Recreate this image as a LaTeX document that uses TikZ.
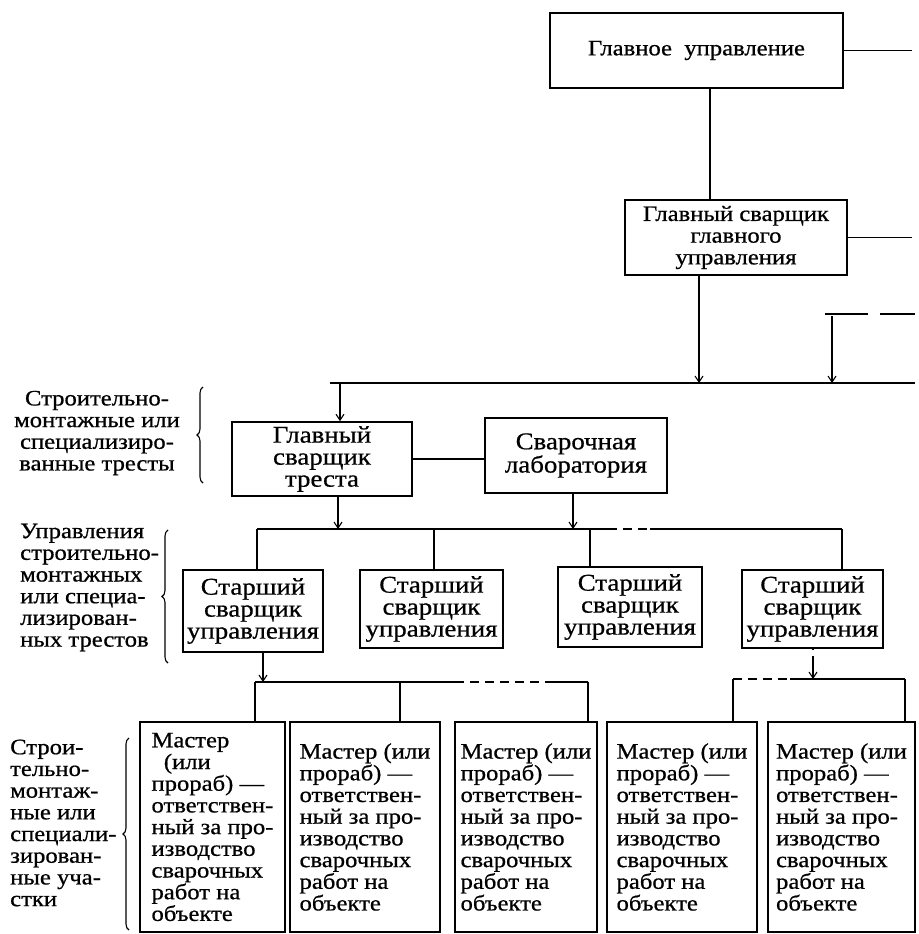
\documentclass[tikz,border=0pt]{standalone}
\usepackage{fontspec}
\setmainfont[FakeStretch=1.12,FakeBold=0.7]{Liberation Serif}
\usetikzlibrary{arrows.meta,decorations.pathreplacing}
\begin{document}
\begin{tikzpicture}[x=1pt,y=-1pt,
  txt/.style={font=\fontsize{22}{21.7}\selectfont},
  bigtxt/.style={font=\fontsize{24}{22}\selectfont},
  box/.style={draw, line width=1.6pt, inner sep=0pt, txt},
  lbl/.style={inner sep=0pt, txt},
  ln/.style={line width=1.4pt},
  dsh/.style={line width=1.4pt, dash pattern=on 9pt off 6pt},
  arr/.style={line width=1.1pt, -{Straight Barb[length=6pt,width=8pt]}},
  brc/.style={line width=1.1pt, decorate, decoration={brace, amplitude=6pt}}]
\useasboundingbox (0,0) rectangle (918,934);

% boxes
\node[box, minimum width=293, minimum height=75, align=center] (top) at (696.5,50.5) {Главное\ \ управление};
\node[box, minimum width=222, minimum height=75, align=center] (gl2) at (736,237.5) {Главный сварщик\\главного\\управления};
\node[box, bigtxt, minimum width=180, minimum height=74, align=center] (trest) at (322,459) {Главный\\сварщик\\треста};
\node[box, bigtxt, minimum width=182, minimum height=75, align=center] (lab) at (576,455.5) {Сварочная\\лаборатория};
\node[box, bigtxt, minimum width=140, minimum height=82, align=center] (s1) at (253,611) {Старший\\сварщик\\управления};
\node[box, bigtxt, minimum width=143, minimum height=78, align=center] (s2) at (431.5,609) {Старший\\сварщик\\управления};
\node[box, bigtxt, minimum width=144, minimum height=80, align=center] (s3) at (630,607) {Старший\\сварщик\\управления};
\node[box, bigtxt, minimum width=141, minimum height=78, align=center] (s4) at (812.5,609) {Старший\\сварщик\\управления};
\node[box, minimum width=145, minimum height=210, align=left] (m1) at (212.5,827) {Мастер\\\ \ (или\\прораб) —\\ответствен-\\ный за про-\\изводство\\сварочных\\работ на\\объекте};
\node[box, minimum width=150, minimum height=210, align=left] (m2) at (365,827) {Мастер (или\\прораб) —\\ответствен-\\ный за про-\\изводство\\сварочных\\работ на\\объекте};
\node[box, minimum width=142, minimum height=210, align=left] (m3) at (526,827) {Мастер (или\\прораб) —\\ответствен-\\ный за про-\\изводство\\сварочных\\работ на\\объекте};
\node[box, minimum width=150, minimum height=210, align=left] (m4) at (682,827) {Мастер (или\\прораб) —\\ответствен-\\ный за про-\\изводство\\сварочных\\работ на\\объекте};
\node[box, minimum width=147, minimum height=210, align=left] (m5) at (841.5,827) {Мастер (или\\прораб) —\\ответствен-\\ный за про-\\изводство\\сварочных\\работ на\\объекте};

% side labels
\node[lbl, align=center] (L1) at (97,433) {Строительно-\\монтажные или\\специализиро-\\ванные тресты};
\node[lbl, align=left, anchor=west] (L2) at (20,587.5) {Управления\\строительно-\\монтажных\\или специа-\\лизирован-\\ных трестов};
\node[lbl, align=left, anchor=west] (L3) at (10,823) {Строи-\\тельно-\\монтаж-\\ные или\\специали-\\зирован-\\ные уча-\\стки};

% braces
\coordinate (br1a) at (203,483); \coordinate (br1b) at (203,387);
\coordinate (br2a) at (168,663); \coordinate (br2b) at (168,530);
\coordinate (br3a) at (129,930); \coordinate (br3b) at (129,738);
\draw[brc] (br1a) -- (br1b);
\draw[brc] (br2a) -- (br2b);
\draw[brc] (br3a) -- (br3b);

% coordinates
\coordinate (r1) at (912,0);
\coordinate (c1) at (710,0);
\coordinate (b1L) at (330,383); \coordinate (b1R) at (915,383);
\coordinate (a1) at (699,383);
\coordinate (a2) at (832,383); \coordinate (a2t) at (832,316);
\coordinate (t2L) at (825,314); \coordinate (t2a) at (868,314);
\coordinate (t2b) at (880,314); \coordinate (t2R) at (915,314);
\coordinate (a3) at (340,383);
\coordinate (b2L) at (257,529); \coordinate (b2a) at (608,529);
\coordinate (b2b) at (650,529); \coordinate (b2R) at (842,529);
\coordinate (d2) at (434,529); \coordinate (d3) at (590,529);
\coordinate (a4) at (338,529); \coordinate (a5) at (573,529);
\coordinate (b3L) at (255,682); \coordinate (b3a) at (455,682);
\coordinate (b3b) at (550,682); \coordinate (b3R) at (588,682);
\coordinate (d5) at (400,682); \coordinate (a6) at (263,682);
\coordinate (b4L) at (733,679); \coordinate (b4a) at (790,679);
\coordinate (b4R) at (905,679); \coordinate (a7) at (813,679);

% top part
\draw[ln] (top.east) -- (top.east -| r1);
\draw[ln] (gl2.east) -- (gl2.east -| r1);
\draw[ln] (top.south -| c1) -- (gl2.north -| c1);
\draw[ln] (b1L) -- (b1R);
\draw[arr] (gl2.south -| a1) -- (a1);
\draw[ln] (t2L) -- (t2a);
\draw[ln] (t2b) -- (t2R);
\draw[arr] (a2t) -- (a2);
\draw[arr] (a3) -- (trest.north -| a3);
\draw[ln] (trest.east) -- (trest.east -| lab.west);

% second bus
\draw[arr] (trest.south -| a4) -- (a4);
\draw[arr] (lab.south -| a5) -- (a5);
\draw[ln] (b2L) -- (b2a);
\draw[dsh] (b2a) -- (b2b);
\draw[ln] (b2b) -- (b2R);
\draw[ln] (b2L) -- (s1.north -| b2L);
\draw[ln] (d2) -- (s2.north -| d2);
\draw[ln] (d3) -- (s3.north -| d3);
\draw[ln] (b2R) -- (s4.north -| b2R);

% third bus (left)
\draw[arr] (s1.south -| a6) -- (a6);
\draw[ln] (b3L) -- (b3a);
\draw[dsh] (b3a) -- (b3b);
\draw[ln] (b3b) -- (b3R);
\draw[ln] (b3L) -- (m1.north -| b3L);
\draw[ln] (d5) -- (m2.north -| d5);
\draw[ln] (b3R) -- (m3.north -| b3R);

% fourth bus (right)
\draw[arr, dash pattern=on 1.5pt off 6pt on 40pt] (s4.south -| a7) -- (a7);
\draw[dsh] (b4L) -- (b4a);
\draw[ln] (b4a) -- (b4R);
\draw[ln] (b4L) -- (m4.north -| b4L);
\draw[ln] (b4R) -- (m5.north -| b4R);
\end{tikzpicture}
\end{document}
